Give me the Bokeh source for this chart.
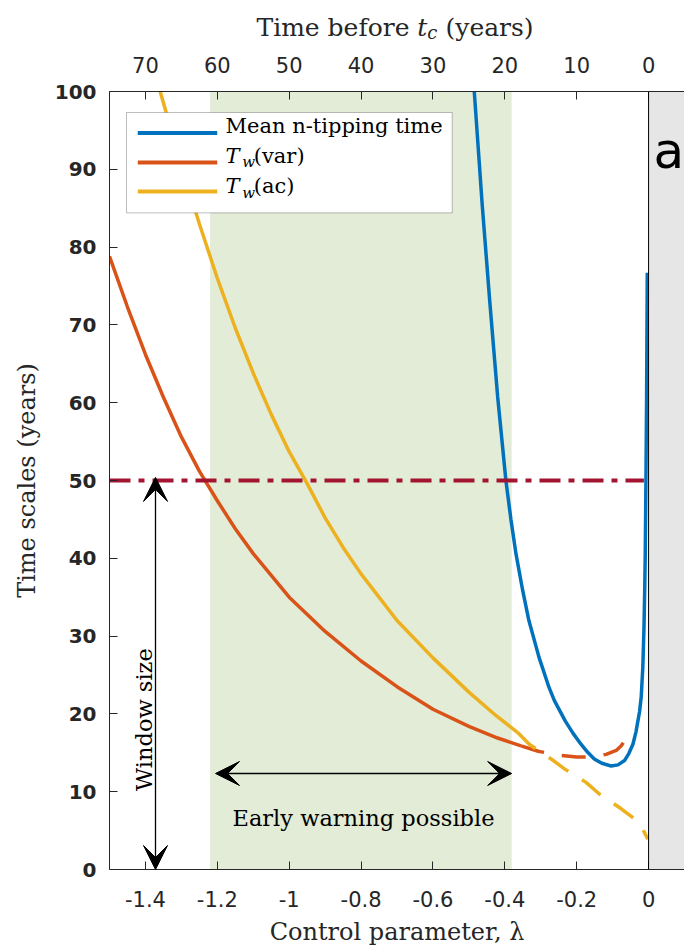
import math
from bokeh.plotting import figure
from bokeh.layouts import column
from bokeh.models import (Range1d, LinearAxis, FixedTicker, BoxAnnotation, Span,
                          Arrow, VeeHead, Label)
from bokeh.embed import file_html
from bokeh.resources import INLINE

# ---------------- data ----------------
# Mean n-tipping time (blue)
lam_tip = [-0.485, -0.463, -0.442, -0.42, -0.397, -0.383, -0.369, -0.35, -0.333,
           -0.305, -0.277, -0.262, -0.232, -0.21, -0.188, -0.17, -0.151, -0.13,
           -0.104, -0.085, -0.067, -0.055, -0.0435, -0.035, -0.0296, -0.025,
           -0.0204, -0.016, -0.0128, -0.0105, -0.0092, -0.0073, -0.0055, -0.0036]
t_tip = [100, 85.5, 73.1, 60.8, 50.0, 45.0, 40.6, 35.8, 32.0,
         27.3, 23.4, 21.7, 19.1, 17.5, 16.1, 15.1, 14.2, 13.65,
         13.3, 13.45, 14.0, 14.9, 16.1, 17.7, 19.1, 20.3,
         22.2, 26.0, 31.0, 36.5, 40.6, 50.0, 60.5, 76.7]

# T_w(var) (orange): solid part, then dashed continuation
lam_var = [-1.5, -1.45, -1.4, -1.35, -1.3, -1.25, -1.2, -1.15, -1.1, -1.0, -0.9,
           -0.8, -0.7, -0.6, -0.5, -0.42, -0.355]
tw_var = [78.8, 72.3, 66.2, 60.7, 55.6, 51.2, 47.4, 43.8, 40.6, 35.0, 30.6,
          26.8, 23.5, 20.6, 18.4, 16.9, 15.9]
lam_var_dash = [-0.355, -0.307, -0.25, -0.2, -0.15, -0.118, -0.09, -0.076, -0.054]
tw_var_dash = [15.9, 15.2, 14.7, 14.45, 14.5, 14.8, 15.3, 15.9, 17.4]

# T_w(ac) (yellow): solid part, then dashed continuation
lam_ac = [-1.359, -1.3, -1.25, -1.2, -1.15, -1.1, -1.05, -1.0, -0.95, -0.9, -0.85,
          -0.8, -0.7, -0.6, -0.5, -0.425, -0.364]
tw_ac = [100, 90.5, 83.0, 76.0, 69.6, 63.8, 58.5, 53.7, 49.6, 45.2, 41.4,
         38.0, 32.0, 27.2, 22.8, 19.8, 17.6]
lam_ac_dash = [-0.364, -0.332, -0.271, -0.233, -0.174, -0.137, -0.076, -0.039, -0.02, -0.002]
tw_ac_dash = [17.6, 16.1, 14.2, 12.9, 11.2, 9.7, 7.8, 6.5, 5.5, 3.9]

# Window size (50 years) line
window_lam = [-1.5, -0.013]
window_val = [50, 50]

# axes
x_ticks = [-1.4, -1.2, -1.0, -0.8, -0.6, -0.4, -0.2, 0.0]
x_tick_labels = ["-1.4", "-1.2", "-1", "-0.8", "-0.6", "-0.4", "-0.2", "0"]
year_ticks = [70, 60, 50, 40, 30, 20, 10, 0]
y_ticks = [0, 10, 20, 30, 40, 50, 60, 70, 80, 90, 100]
years_per_lambda = 50.0

X_MIN, X_MAX = -1.5, 0.1
Y_MIN, Y_MAX = 0, 100

early_lo, early_hi = -1.22, -0.381

BLUE, ORANGE, YELLOW, RED = "#0072BD", "#D95319", "#EDB120", "#A2142F"
AX = "#262626"
SERIF = "DejaVu Serif"
SANS = "DejaVu Sans"

TITLE_H = 44
W, H = 684, 949

xr = Range1d(X_MIN, X_MAX)

# ---------------- title strip (top axis title with subscript) ----------------
pt = figure(width=W, height=TITLE_H, x_range=xr, y_range=Range1d(0, TITLE_H),
            title=None, output_backend="svg", toolbar_location=None,
            x_axis_location=None, y_axis_location=None, min_border_left=109,
            min_border_right=0, min_border_top=0, min_border_bottom=0)
pt.outline_line_color = None
pt.grid.visible = False


def tlab(x, y, text, size, style="normal"):
    pt.add_layout(Label(x=x, y=y, text=text, text_font=SERIF, text_font_size=size,
                        text_font_style=style, text_color=AX, text_align="left",
                        text_baseline="alphabetic"))


TB = 17.0  # title baseline, in strip pixels from its bottom
tlab(-1.091, TB, "Time before", "25px")
tlab(-0.6438, TB, "t", "25px", "italic")
tlab(-0.6159, TB - 4.5, "c", "18px", "italic")
tlab(-0.565, TB, "(years)", "25px")

# ---------------- main plot ----------------
p = figure(width=W, height=H - TITLE_H, x_range=xr, title=None,
           y_range=Range1d(Y_MIN, Y_MAX), output_backend="svg",
           toolbar_location=None, min_border_left=109, min_border_right=0,
           min_border_top=91 - TITLE_H, min_border_bottom=80)
p.outline_line_color = None
p.grid.visible = False
p.background_fill_color = "white"
p.border_fill_color = "white"

# top axis (time before t_c)
p.extra_x_ranges = {"years": Range1d(-X_MIN * years_per_lambda, -X_MAX * years_per_lambda)}
top = LinearAxis(x_range_name="years", ticker=FixedTicker(ticks=year_ticks))
top.major_label_overrides = {t: str(t) for t in year_ticks}
p.add_layout(top, "above")

xb = p.below[0]
xb.ticker = FixedTicker(ticks=x_ticks)
xb.major_label_overrides = dict(zip(x_ticks, x_tick_labels))
xb.axis_label = "Control parameter, λ"
yl = p.left[0]
yl.ticker = FixedTicker(ticks=y_ticks)
yl.major_label_overrides = {t: str(t) for t in y_ticks}
yl.axis_label = "Time scales (years)"

for ax in (xb, top, yl):
    ax.axis_line_color = AX
    ax.axis_line_width = 1
    ax.major_tick_line_color = AX
    ax.major_tick_in = 8
    ax.major_tick_out = 0
    ax.minor_tick_line_color = None
    ax.major_label_text_color = AX
    ax.major_label_text_font = SANS
    ax.major_label_text_font_size = "21px"
    ax.axis_label_text_font = SERIF
    ax.axis_label_text_font_style = "normal"
    ax.axis_label_text_font_size = "24px"
    ax.axis_label_text_color = AX
xb.major_label_standoff = 21
xb.axis_label_standoff = 8
top.major_label_standoff = 19
yl.major_label_text_font_style = "bold"
yl.major_label_text_font_size = "20px"
yl.major_label_standoff = 13
yl.axis_label_standoff = 11

# shaded regions
p.add_layout(BoxAnnotation(left=early_lo, right=early_hi, fill_color="#E2ECD6",
                           fill_alpha=1, line_color=None, level="underlay"))
p.add_layout(BoxAnnotation(left=0, fill_color="#E6E6E6", fill_alpha=1,
                           line_color=None, level="underlay"))

# curves
p.line(lam_tip, t_tip, line_color=BLUE, line_width=3.5)
p.line(lam_var, tw_var, line_color=ORANGE, line_width=3.5)
p.line(lam_var_dash, tw_var_dash, line_color=ORANGE, line_width=3.5, line_dash="24 18")
p.line(lam_ac, tw_ac, line_color=YELLOW, line_width=3.5)
p.line(lam_ac_dash, tw_ac_dash, line_color=YELLOW, line_width=3.5, line_dash="24 16")
p.line(window_lam, window_val, line_color=RED, line_width=4, line_dash="21 8 6 8")

p.add_layout(Span(location=0, dimension="height", line_color="black", line_width=1))


# arrows
def vee():
    return VeeHead(size=24, fill_color="black", line_color="black", line_width=1)


p.add_layout(Arrow(start=vee(), end=vee(), x_start=-1.372, y_start=0, x_end=-1.372,
                   y_end=50.4, line_color="black", line_width=1.3))
p.add_layout(Arrow(start=vee(), end=vee(), x_start=-1.205, y_start=12.34, x_end=early_hi,
                   y_end=12.34, line_color="black", line_width=1.3))

p.add_layout(Label(x=-1.4046, y=10.1, text="Window size", angle=math.pi / 2,
                   text_font=SERIF, text_font_size="22.5px", text_color="black",
                   text_align="left", text_baseline="alphabetic"))
p.add_layout(Label(x=-0.7932, y=6.6, text="Early warning possible",
                   text_font=SERIF, text_font_size="22.5px", text_color="black",
                   text_align="center", text_baseline="alphabetic"))
p.add_layout(Label(x=0.0136, y=92.4, text="a", text_font=SANS, text_font_size="50px",
                   text_color="black", text_align="left", text_baseline="alphabetic"))

# legend (built by hand so that the subscripts can be drawn)
p.add_layout(BoxAnnotation(left=-1.4527, right=-0.5464, bottom=84.4, top=97.3,
                           fill_color="white", fill_alpha=1, line_color=AX,
                           line_width=1, level="annotation"))
leg_rows = [(94.65, BLUE), (90.87, ORANGE), (87.15, YELLOW)]
for yy, col in leg_rows:
    p.add_layout(Arrow(start=None, end=None, x_start=-1.4213, y_start=yy, x_end=-1.2003,
                       y_end=yy, line_color=col, line_width=4))
p.add_layout(Label(x=-1.1772, y=94.0, text="Mean n-tipping time", text_font=SERIF,
                   text_font_size="21px", text_color="black"))
for yy, txt in ((90.2, "(var)"), (86.25, "(ac)")):
    p.add_layout(Label(x=-1.1772, y=yy, text="T", text_font=SERIF, text_font_size="21px",
                       text_font_style="italic", text_color="black"))
    p.add_layout(Label(x=-1.1308, y=yy - 0.45, text="w", text_font=SERIF,
                       text_font_size="15px", text_font_style="italic", text_color="black"))
    p.add_layout(Label(x=-1.0985, y=yy, text=txt, text_font=SERIF, text_font_size="21px",
                       text_color="black"))

layout = column(pt, p, spacing=0)
open("out.html", "w").write(file_html(layout, INLINE))
